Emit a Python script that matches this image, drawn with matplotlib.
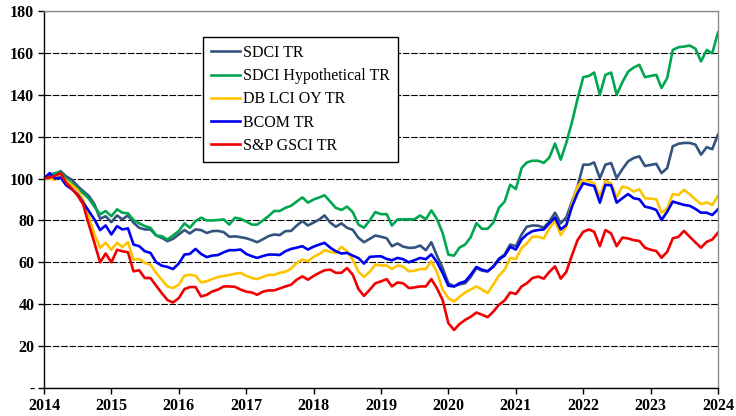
import numpy as np
import pandas as pd
import matplotlib
matplotlib.use("Agg")
import matplotlib.pyplot as plt
import matplotlib.dates as mdates

# monthly index levels, Jan 2014 = 100
sdci_tr = [
    100, 102, 102.2, 103.5, 101, 99.4, 96.5, 94, 91.7, 87.7, 80.8, 82,
    79.2, 82.4, 80.5, 82.4, 78.9, 76.5, 75.7, 75.7, 72.8, 71.7, 70.1, 71.2,
    73.3, 75.4, 73.8, 75.7, 75.4, 74, 74.9, 75, 74.4, 72.2, 72.4, 72,
    71.5, 70.6, 69.6, 71, 72.5, 73.3, 73, 74.9, 75, 77.5, 79.7, 77.6,
    79, 80.5, 82.4, 79, 77, 78.6, 76.5, 75.5, 71.7, 69.6, 71.2, 72.8,
    72.2, 71.5, 67.7, 69, 67.5, 66.9, 67, 68, 65.8, 69.6, 63, 57.3,
    50, 48.5, 49.5, 50, 53, 57.3, 56, 55.7, 58, 61.8, 63.7, 68.5,
    67.7, 73.3, 77, 77.6, 77.5, 76.6, 79.4, 83.7, 78.6, 81.4, 89, 96.2,
    106.6, 106.6, 107.7, 100.2, 106.6, 107.4, 100.2, 104.5, 108.2, 109.8, 110.6, 106,
    106.5, 107, 102.6, 105, 115.4, 116.6, 117, 117, 116.2, 111.4, 115, 114,
    121,
]
sdci_hyp = [
    100, 101.6, 102.6, 103, 99.7, 97.6, 95.2, 93, 90.4, 86.6, 82.9, 84.5,
    82, 85.3, 83.7, 83.4, 80.2, 78.6, 77.3, 76.5, 72.8, 72.5, 70.9, 72.8,
    74.9, 78.6, 76.5, 79.7, 81.3, 80, 80, 80.2, 80.5, 78, 81.3, 80.8,
    79.5, 78, 78, 80, 82, 84.5, 84.5, 86, 87, 89, 91, 88.5,
    90, 91, 92, 89, 86, 85, 86.6, 84, 78, 76.5, 80, 84,
    83, 83, 77.6, 80.5, 80.5, 80.5, 80.5, 82.4, 80.5, 84.8, 80.5, 74,
    63.7, 63.2, 67, 68.5, 72, 78.7, 76, 76, 79, 86, 89, 97,
    95, 105, 107.7, 108.5, 108.5, 107.5, 110, 116.7, 109, 117, 127, 138,
    148.4, 149, 150.6, 140, 149.5, 150.6, 140, 146, 151, 153, 154.3, 148.4,
    149, 149.5, 143.2, 148, 161.4, 162.7, 163, 163.5, 162, 155.9, 161.4, 159.8,
    169.7,
]
db_lci = [
    100, 100, 99.4, 101.6, 99, 96.8, 94.6, 90, 82, 73.3, 66.9, 69.3,
    66, 69.3, 67.4, 69.6, 61.3, 61.6, 59.7, 58.9, 54.9, 51.7, 48.5, 47.7,
    49.3, 53.6, 54.1, 53.6, 50.4, 51, 52, 53, 53.5, 54, 54.5, 55,
    53.5, 52.5, 52, 53, 54, 54, 55, 55.5, 57, 59.7, 61.3, 60.5,
    62.6, 64, 65.8, 65, 64.5, 67.4, 65.3, 61.3, 55.5, 53, 55.5, 58.9,
    58.5, 58.5, 56.8, 58.5, 58, 55.7, 56, 56.8, 56.8, 60.5, 55, 46.9,
    42.9, 41.3, 43.5, 45.6, 47, 48.5, 47, 45.3, 49.5, 53.6, 56.5, 62.1,
    61.6, 66.9, 69, 72.2, 72.2, 71.4, 76.2, 79.7, 73, 77, 88.2, 96.2,
    99.4, 98.6, 97.8, 91.4, 99, 97.8, 91, 96.2, 95.5, 93.8, 94.9, 90.6,
    90.4, 90.1, 83.7, 85.8, 92.6, 92.2, 94.6, 92.5, 90, 87.8, 88.6, 87.4,
    91.7,
]
bcom = [
    100, 102.6, 100, 100.5, 96.8, 94.9, 92.5, 88.5, 84.5, 80.5, 75.4, 77.6,
    73.3, 77.3, 75.7, 76.2, 68.5, 67.7, 65.3, 64.5, 60, 58.4, 57.8, 56.8,
    59.4, 63.7, 64, 66.4, 64, 62.5, 63.2, 63.5, 64.8, 65.8, 65.8, 66.1,
    64, 62.9, 62.1, 63, 63.7, 63.7, 63.5, 65.3, 66.4, 67, 67.7, 66.1,
    67.5, 68.5, 69.3, 67, 65.3, 64.2, 64.5, 63.2, 62, 59.4, 62.6, 62.8,
    62.9, 61.6, 61, 62.1, 61.5, 60, 61, 62.1, 61.5, 63.8, 60, 54.9,
    48.8, 48.5, 50, 50.9, 54, 57.8, 56.5, 55.7, 58, 61.3, 63.2, 67.4,
    66.1, 70.9, 73.3, 74.9, 75.4, 75.7, 78.6, 81.4, 75.7, 77.8, 86.6, 93,
    97.8, 97, 96.5, 88.5, 97, 96.8, 88.5, 90.6, 92.6, 90.6, 90.1, 86.6,
    86, 85, 80.2, 84.2, 89, 88.2, 87.4, 87, 85.5, 83.7, 83.7, 82.6,
    85.3,
]
gsci = [
    100, 100.5, 101.3, 102.6, 98, 95.2, 92, 87.7, 78, 69.3, 60, 64.2,
    60, 66, 65.3, 64.8, 55.7, 56.2, 52.5, 52.5, 48.8, 45.3, 42, 40.8,
    42.9, 47.2, 48.2, 48.2, 43.7, 44.5, 46.1, 47, 48.5, 48.5, 48.3, 47,
    46, 45.6, 44.5, 46, 46.6, 46.6, 47.5, 48.5, 49.3, 51.7, 53.3, 51.7,
    53.5, 55, 56.2, 56.5, 55, 55, 57.3, 54.1, 47.2, 44, 46.9, 50,
    50.9, 52, 48.5, 50.4, 50, 47.7, 48, 48.5, 48.5, 52, 47.5, 42,
    31, 27.7, 30.5, 32.5, 34, 36, 35, 33.8, 36.5, 39.7, 41.8, 45.6,
    44.9, 48.5, 50, 52.5, 53.2, 52.2, 55.4, 58.1, 52.2, 55.4, 63.4, 70.6,
    74.6, 75.7, 74.6, 67.7, 75.4, 73.8, 67.7, 71.8, 71.4, 70.6, 70.2, 67,
    66, 65.4, 62.2, 65, 71.4, 72.2, 75, 72.2, 69.5, 67, 69.8, 70.9,
    74.1,
]

series = [
    ("SDCI TR", sdci_tr, "#34547F"),
    ("SDCI Hypothetical TR", sdci_hyp, "#00A650"),
    ("DB LCI OY TR", db_lci, "#FFC400"),
    ("BCOM TR", bcom, "#0000F0"),
    ("S&P GSCI TR", gsci, "#F00000"),
]

dates = pd.date_range("2014-01-01", periods=len(sdci_tr), freq="MS")
year_ticks = pd.date_range("2014-01-01", "2024-01-01", freq="YS")
year_labels = [str(d.year) for d in year_ticks]
yticks = [0, 20, 40, 60, 80, 100, 120, 140, 160, 180]
ytick_labels = ["-"] + [str(v) for v in yticks[1:]]

plt.rcParams["font.family"] = ["Liberation Serif", "DejaVu Serif"]

fig = plt.figure(figsize=(7.36, 4.16), dpi=100)
ax = fig.add_axes([0.0598, 0.0673, 0.9157, 0.9063])

for name, vals, col in series:
    ax.plot(dates, vals, color=col, lw=1.9, label=name)

ax.set_xlim(year_ticks[0], year_ticks[-1])
ax.set_ylim(0, 180)
ax.set_xticks(year_ticks)
ax.set_xticklabels(year_labels, fontsize=11.5, fontweight="bold")
ax.set_yticks(yticks)
ax.set_yticklabels(ytick_labels, fontsize=11.5, fontweight="bold")
ax.tick_params(axis="both", length=4, width=1, direction="out", pad=3)

ax.yaxis.grid(True, color="black", ls=(0, (6, 1.5)), lw=0.8)
ax.set_axisbelow(True)
for s in ["left", "bottom"]:
    ax.spines[s].set_color("black")
    ax.spines[s].set_linewidth(1)
for s in ["top", "right"]:
    ax.spines[s].set_color("#8c8c8c")
    ax.spines[s].set_linewidth(1)

leg = ax.legend(loc="upper left", bbox_to_anchor=(0.236, 0.931), borderaxespad=0,
                fontsize=11.5, frameon=True, fancybox=False, handlelength=1.8,
                handletextpad=0.2, labelspacing=0.45, borderpad=0.5)
leg.get_frame().set_edgecolor("black")
leg.get_frame().set_linewidth(1)
leg.get_frame().set_alpha(1)

fig.savefig("out.png", dpi=100)
